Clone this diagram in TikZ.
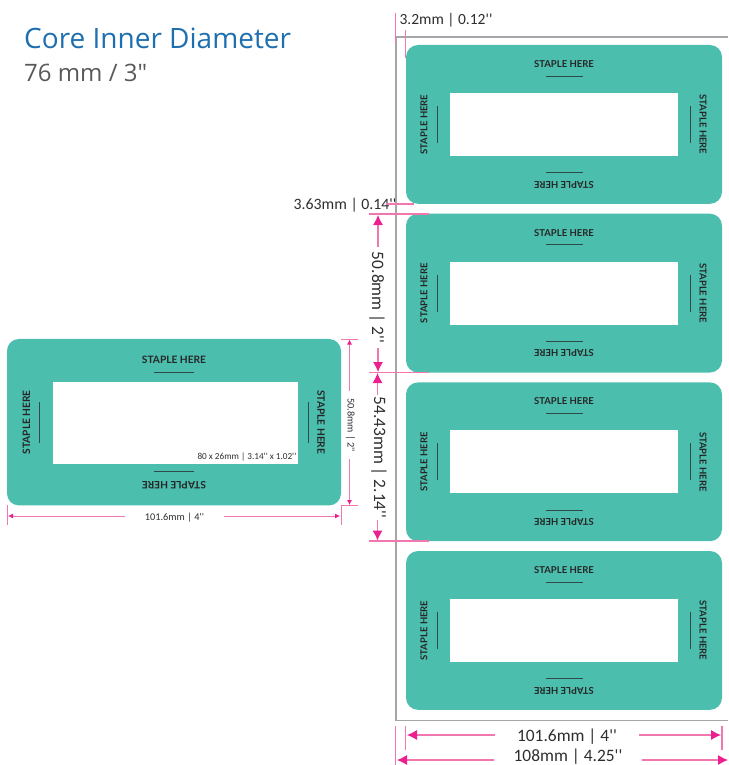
\documentclass[tikz,border=0pt]{standalone}
\usepackage{xcolor}
\usepackage{fontspec}
\setmainfont{Carlito}
\newfontfamily\dimfont{Carlito}
\newfontfamily\titlefont{Open Sans}
\newfontfamily\staplefont{Lato}
\usetikzlibrary{shapes,arrows.meta}

\definecolor{labelteal}{HTML}{4BBEAE}
\definecolor{dimpink}{HTML}{F178AE}
\definecolor{tippink}{HTML}{EC1F8E}
\definecolor{framegray}{HTML}{A4A6AA}
\definecolor{titleblue}{HTML}{1E6FB0}
\definecolor{dimtext}{HTML}{2E2E2E}
\definecolor{stapleink}{HTML}{2F4A47}

\tikzset{
  labelbox/.style={fill=labelteal, rounded corners=12pt, inner sep=0pt},
  windowbox/.style={fill=white, inner sep=0pt},
  staplebig/.style={font=\staplefont\bfseries\fontsize{10.2}{12}\selectfont, text=black!85, inner sep=0pt},
  staplesmall/.style={font=\staplefont\bfseries\fontsize{9.5}{11}\selectfont, text=black!85, inner sep=0pt},
  stapleline/.style={draw=stapleink, line width=0.7pt},
  dimbig/.style={font=\dimfont\fontsize{17.4}{19}\selectfont, text=dimtext, inner ysep=0pt},
  dimmid/.style={font=\dimfont\fontsize{15.8}{18}\selectfont, text=dimtext, inner sep=0pt},
  dimsmall/.style={font=\dimfont\fontsize{10.3}{12}\selectfont, text=dimtext, inner ysep=0pt},
  tick/.style={draw=dimpink, line width=1.2pt},
  arrowbig/.style={draw=dimpink, line width=1.1pt, -{Latex[length=10pt,width=10pt,color=tippink]}},
  arrowsmall/.style={draw=dimpink, line width=0.8pt, -{Latex[length=5pt,width=5pt,color=tippink]}},
}

\begin{document}
\begin{tikzpicture}[x=1pt,y=-1pt]
\useasboundingbox (0,0) rectangle (728,765);

% title
\node[anchor=base west, inner sep=0pt, text=titleblue, font=\titlefont\fontsize{28}{30}\selectfont] at (24,49) (title) {Core Inner Diameter};
\node[anchor=base west, inner sep=0pt, text=black!65, font=\titlefont\fontsize{24}{26}\selectfont] at (24,82) (subtitle) {76 mm / 3"};

% sheet outline
\coordinate (framea) at (395.7,37);
\coordinate (frameb) at (395.7,720.5);
\coordinate (framec) at (728,720.5);
\coordinate (framed) at (728,37);
\draw[framegray, line width=1.6pt] (framed) -- (framea) -- (frameb) -- (framec);

% single label on the left
\node[labelbox, minimum width=334pt, minimum height=166.5pt] at (174,422.2) (big) {};
\node[windowbox, minimum width=245pt, minimum height=82.5pt] at (175.5,423.2) (bigwin) {};
\node[anchor=south east, inner sep=0pt, font=\dimfont\fontsize{9.2}{11}\selectfont, text=dimtext] at (296.5,461.5) (bigcap) {80 x 26mm | 3.14'' x 1.02''};
\node[staplebig] at (174,359.5) (bigtop) {STAPLE HERE};
\node[staplebig, rotate=180] at (174,485) (bigbot) {STAPLE HERE};
\node[staplebig, rotate=90] at (26.5,422.3) (bigleft) {STAPLE HERE};
\node[staplebig, rotate=-90] at (321,422.3) (bigright) {STAPLE HERE};
\draw[stapleline] (153.5,372.5) -- (194,372.5);
\draw[stapleline] (153.5,471.5) -- (194,471.5);
\draw[stapleline] (39.5,402) -- (39.5,442.5);
\draw[stapleline] (308.5,402) -- (308.5,442.5);

% sheet of four labels
\foreach \i/\ytop in {1/45,2/213.7,3/382.4,4/551}{
  \node[labelbox, minimum width=316pt, minimum height=158.8pt] at (564,\ytop+79.4) (lab\i) {};
  \node[windowbox, minimum width=228pt, minimum height=63pt] at (564,\ytop+79.5) (win\i) {};
  \node[staplesmall] at (564,\ytop+19) (top\i) {STAPLE HERE};
  \node[staplesmall, rotate=180] at (564,\ytop+139.5) (bot\i) {STAPLE HERE};
  \node[staplesmall, rotate=90] at (424,\ytop+79.5) (left\i) {STAPLE HERE};
  \node[staplesmall, rotate=-90] at (703,\ytop+79.5) (right\i) {STAPLE HERE};
  \draw[stapleline, line width=0.5pt] (545.5,\ytop+31) -- (582.5,\ytop+31);
  \draw[stapleline, line width=0.5pt] (545.5,\ytop+127.5) -- (582.5,\ytop+127.5);
  \draw[stapleline, line width=0.5pt] (437,\ytop+61) -- (437,\ytop+98);
  \draw[stapleline, line width=0.5pt] (690,\ytop+61) -- (690,\ytop+98);
}

% dimensions of the single label
\coordinate (wa) at (8,516);
\coordinate (wb) at (340,516);
\node[dimsmall, inner xsep=20pt] at (174.5,517.5) (bigw) {101.6mm | 4''};
\draw[arrowsmall] (bigw.west|-wa) -- (wa);
\draw[arrowsmall] (bigw.east|-wb) -- (wb);
\draw[tick, line width=1pt] (7,505) -- (7,525);
\draw[tick, line width=1pt] (341,505) -- (341,525);

\coordinate (ha) at (349.5,339.5);
\coordinate (hb) at (349.5,505);
\node[dimsmall, rotate=-90, inner xsep=7pt] at (350.5,425) (bigh) {50.8mm | 2''};
\draw[arrowsmall] (bigh.west-|ha) -- (ha);
\draw[arrowsmall] (bigh.east-|hb) -- (hb);
\draw[tick, line width=1pt] (341,339) -- (358,339);
\draw[tick, line width=1pt] (341,505.5) -- (358,505.5);

% dimensions of the sheet
\draw[tick] (395.7,13) -- (395.7,43);
\draw[tick] (405.5,30) -- (405.5,58);
\node[dimmid, font=\dimfont\fontsize{15.5}{18}\selectfont] at (446,20.5) (margin) {3.2mm | 0.12''};

\node[dimmid] at (345,205) (gap) {3.63mm | 0.14''};
\draw[tick] (386,204) -- (414,204);
\draw[tick] (369,214) -- (429,214);
\draw[tick] (369,372.2) -- (429,372.2);
\draw[tick] (369,541) -- (429,541);

\coordinate (pa) at (378,215);
\coordinate (pb) at (378,372);
\node[dimbig, rotate=-90, inner xsep=5pt] at (377,297.5) (pitch) {50.8mm | 2''};
\draw[arrowbig] (pitch.west-|pa) -- (pa);
\draw[arrowbig] (pitch.east-|pb) -- (pb);

\coordinate (qa) at (377.5,373);
\coordinate (qb) at (377.5,540.5);
\node[dimbig, rotate=-90, inner xsep=1pt] at (379,457.5) (repeat) {54.43mm | 2.14''};
\draw[arrowbig] (repeat.west-|qa) -- (qa);
\draw[arrowbig] (repeat.east-|qb) -- (qb);

\coordinate (ra) at (407,735);
\coordinate (rb) at (721,735);
\node[dimbig, inner xsep=22pt] at (567,737) (labw) {101.6mm | 4''};
\draw[arrowbig] (labw.west|-ra) -- (ra);
\draw[arrowbig] (labw.east|-rb) -- (rb);
\draw[tick] (405.5,726) -- (405.5,750);
\draw[tick] (722,726) -- (722,750);

\coordinate (sa) at (397,760);
\coordinate (sb) at (728,760);
\node[dimbig, inner xsep=19pt] at (568,756.5) (sheetw) {108mm | 4.25''};
\draw[arrowbig] (sheetw.west|-sa) -- (sa);
\draw[arrowbig] (sheetw.east|-sb) -- (sb);
\draw[tick] (395.7,726) -- (395.7,765);
\end{tikzpicture}
\end{document}
